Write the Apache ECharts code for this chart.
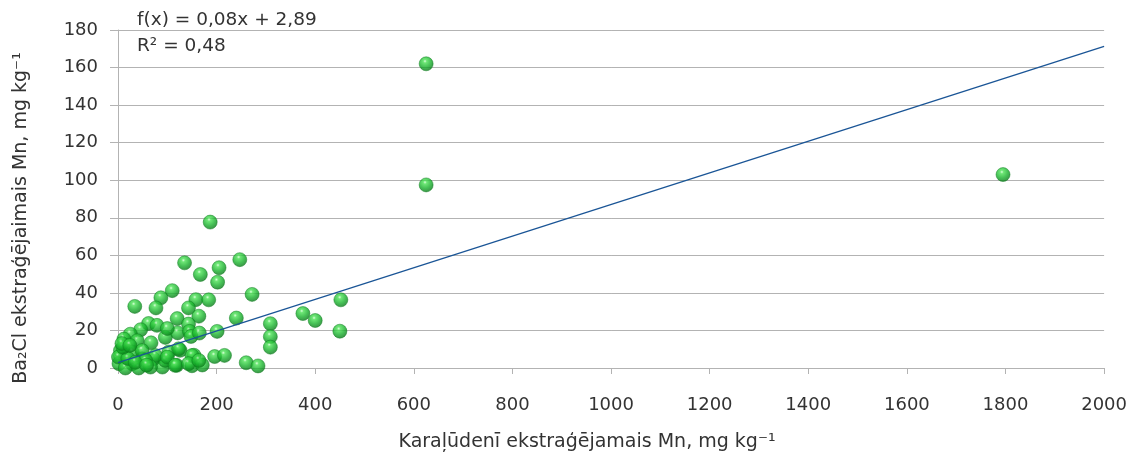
<!DOCTYPE html>
<html>
<head>
<meta charset="utf-8">
<script src="https://cdn.jsdelivr.net/npm/echarts@6/dist/echarts.min.js"></script>
<style>
  html, body { margin: 0; padding: 0; background: #fff; }
  #chart { width: 1130px; height: 457px; }
</style>
</head>
<body>
<div id="chart"></div>
<script>
// Aqua regia extractable Mn (x) vs BaCl extractable Mn (y), mg/kg
const mnAquaRegia = [
  1795, 625, 625,
  187,
  135, 247, 205, 167, 202,
  110, 87, 34, 77, 158, 184, 272,
  452, 375, 400, 450,
  143, 164, 120, 143, 240, 309, 309, 309,
  62, 79, 46, 25, 96, 121, 145, 148, 165, 201, 100,
  67, 39, 12, 15, 103, 126, 154, 196, 216, 260, 284,
  119, 150, 171, 90, 29, 49, 72, 5, 2, 96,
  123, 5, 29, 49, 76, 100, 150, 56, 116, 143, 164,
  1, 15, 42, 66, 20, 35, 10, 58, 8, 24
];
const mnBaCl = [
  103, 162, 97.5,
  77.7,
  56, 57.7, 53.4, 49.8, 45.7,
  41.2, 37.4, 32.8, 32, 36.4, 36.3, 39.2,
  36.3, 29, 25.3, 19.6,
  32, 27.6, 26.3, 23.4, 26.6, 23.6, 16.7, 11.1,
  23.7, 22.7, 20.4, 18, 16.3, 18.7, 19.5, 16.8, 18.6, 19.5, 21,
  13.4, 14.5, 15.4, 11.9, 8.5, 9.4, 6.8, 6.1, 6.7, 2.8, 1.1,
  1.4, 1.2, 1.6, 0.5, 2.3, 4.9, 4.9, 6.6, 2.3, 4,
  10.2, 9.3, 8.4, 9.3, 6.6, 5.8, 6.6, 4, 1.4, 2.3, 4,
  5.8, 0, 0, 0.5, 5, 3, 11, 1.5, 13, 12
];

// Linear trend (Mn_BaCl = slope * Mn_aqua + intercept)
const trendSlope = 0.0842;
const trendIntercept = 2.89;
const rSquared = 0.48;

const xTicks = { min: 0, max: 2000, step: 200 };
const yTicks = { min: 0, max: 180, step: 20 };

const xTitle = 'Karaļūdenī ekstraģējamais Mn, mg kg⁻¹';
const yTitle = 'Ba₂Cl ekstraģējaimais Mn, mg kg⁻¹';

const fmt = v => v.toFixed(2).replace('.', ',');

const points = mnAquaRegia.map((x, i) => [x, mnBaCl[i]]);
const trendLine = [
  [xTicks.min, trendSlope * xTicks.min + trendIntercept],
  [xTicks.max, trendSlope * xTicks.max + trendIntercept]
];

const FONT = 'DejaVu Sans';
const TXT = '#333333';
const chart = echarts.init(document.getElementById('chart'), null, { renderer: 'canvas' });

const sphere = new echarts.graphic.RadialGradient(0.42, 0.32, 0.75, [
  { offset: 0, color: '#d2ffd2' },
  { offset: 0.16, color: '#4ae054' },
  { offset: 0.55, color: '#17b02b' },
  { offset: 1, color: '#066a14' }
]);

chart.setOption({
  animation: false,
  backgroundColor: '#ffffff',
  grid: { left: 118, right: 24, top: 30, bottom: 84, containLabel: false },
  xAxis: {
    type: 'value',
    min: xTicks.min, max: xTicks.max, interval: xTicks.step,
    name: xTitle,
    nameLocation: 'middle',
    nameGap: 65,
    nameTextStyle: { fontFamily: FONT, fontSize: 19, color: TXT, padding: [0, 48, 0, 0] },
    axisLine: { show: true, lineStyle: { color: '#b3b3b3', width: 1 } },
    axisTick: { show: true, length: 6, lineStyle: { color: '#b3b3b3' } },
    axisLabel: {
      fontFamily: FONT, fontSize: 18, color: TXT, margin: 28,
      formatter: v => String(v)
    },
    splitLine: { show: false }
  },
  yAxis: {
    type: 'value',
    min: yTicks.min, max: yTicks.max, interval: yTicks.step,
    axisLine: { show: true, lineStyle: { color: '#b3b3b3', width: 1 } },
    axisTick: { show: true, length: 8, lineStyle: { color: '#b3b3b3' } },
    axisLabel: {
      fontFamily: FONT, fontSize: 18, color: TXT, margin: 20,
      formatter: v => String(v)
    },
    splitLine: { show: true, lineStyle: { color: '#b3b3b3', width: 1 } }
  },
  graphic: [
    {
      type: 'text', x: 21, y: 218, rotation: Math.PI / 2,
      style: {
        text: yTitle, align: 'center', verticalAlign: 'middle',
        fontFamily: FONT, fontSize: 19, fill: TXT
      }
    },
    {
      type: 'text', left: 137, top: 11,
      style: {
        text: 'f(x) = ' + fmt(trendSlope) + 'x + ' + fmt(trendIntercept),
        fontFamily: FONT, fontSize: 18.5, fill: TXT
      }
    },
    {
      type: 'text', left: 137, top: 37,
      style: {
        text: 'R² = ' + fmt(rSquared),
        fontFamily: FONT, fontSize: 18.5, fill: TXT
      }
    }
  ],
  series: [
    {
      type: 'scatter',
      data: points,
      symbol: 'circle',
      symbolSize: 14,
      itemStyle: { color: sphere, borderColor: '#0c7d1e', borderWidth: 0.6 },
      z: 2
    },
    {
      type: 'line',
      data: trendLine,
      showSymbol: false,
      symbol: 'none',
      lineStyle: { color: '#1a5596', width: 1.3 },
      z: 3,
      silent: true
    }
  ]
});
</script>
</body>
</html>
